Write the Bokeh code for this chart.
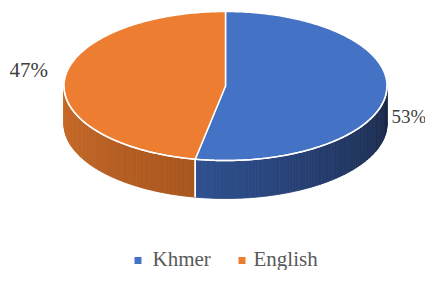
import numpy as np
from bokeh.plotting import figure
from bokeh.models import Range1d
from bokeh.core.properties import value
from bokeh.embed import file_html
from bokeh.resources import INLINE

# ---- data ----
categories = ["Khmer", "English"]
shares = [53, 47]
top_colors = ["#4472C4", "#ED7D31"]
side_colors_a = ["#2F5090", "#CB6B29"]   # left end of each side band
side_colors_b = ["#1A2846", "#A8561F"]   # right end of each side band
label_texts = ["53%", "47%"]

W, H = 425, 270
p = figure(width=W, height=H, output_backend="svg", toolbar_location=None,
           x_range=Range1d(0, W), y_range=Range1d(H, 0), min_border=0)
p.axis.visible = False
p.grid.visible = False
p.outline_line_color = None
p.background_fill_color = "white"

cx, cy, rx, ry, depth = 225.0, 85.5, 161.5, 74.5, 38.0

def pt(theta_deg):
    t = np.radians(theta_deg)
    return cx + rx * np.cos(t), cy - ry * np.sin(t)

def hex2rgb(h):
    h = h.lstrip("#")
    return np.array([int(h[i:i + 2], 16) for i in (0, 2, 4)], dtype=float)

def mix(a, b, f):
    c = hex2rgb(a) * (1 - f) + hex2rgb(b) * f
    return "#%02x%02x%02x" % tuple(int(round(v)) for v in c)

total = float(sum(shares))
bounds = []
start = 90.0
for s in shares:
    end = start - 360.0 * s / total
    bounds.append((start, end))
    start = end

# ---- sides (front half only) ----
sx, sy, sc = [], [], []
for i, (a0, a1) in enumerate(bounds):
    lo, hi = min(a0, a1), max(a0, a1)
    for off in (0, -360, 360):
        l, h = max(lo + off, -180), min(hi + off, 0)
        if h <= l:
            continue
        n = 80
        th = np.linspace(l, h, n + 1)
        for k in range(n):
            x0, y0 = pt(th[k])
            x1, y1 = pt(th[k + 1])
            sx.append([x0, x1, x1, x0])
            sy.append([y0, y1, y1 + depth, y0 + depth])
            f = 1 - (k + 0.5) / n
            sc.append(mix(side_colors_b[i], side_colors_a[i], f))
p.patches(sx, sy, fill_color=sc, line_color=sc, line_width=0.8)

# ---- top face ----
txs, tys = [], []
for (a0, a1) in bounds:
    th = np.linspace(a0, a1, 200)
    xs, ys = pt(th)
    txs.append([cx] + list(xs))
    tys.append([cy] + list(ys))
p.patches(txs, tys, fill_color=top_colors, line_color="white", line_width=1.5)

th = np.linspace(-180, 0, 200)
rxs, rys = pt(th)
p.line(rxs, rys, line_color="white", line_width=1.5)
for (a0, a1) in bounds:
    for a in (a0, a1):
        am = ((a + 180) % 360) - 180
        if -180 < am < 0:
            x, y = pt(am)
            p.line([x, x], [y, y + depth], line_color="white", line_width=1.5)

# ---- data labels ----
p.text(x=[391, 9], y=[116, 69], text=label_texts,
       text_align="left", text_baseline="middle",
       text_font=value("Liberation Serif"), text_font_size=["19px", "21px"],
       text_color="#404040")

# ---- legend ----
leg_mx = [137.5, 241.5]
leg_tx = [152, 253]
p.rect(x=leg_mx, y=[260, 260], width=7, height=7, fill_color=top_colors, line_color=None)
p.text(x=leg_tx, y=[258.5, 258.5], text=categories, text_align="left",
       text_baseline="middle", text_font=value("Liberation Serif"),
       text_font_size="21px", text_color="#595959")

open("out.html", "w").write(file_html(p, INLINE))
